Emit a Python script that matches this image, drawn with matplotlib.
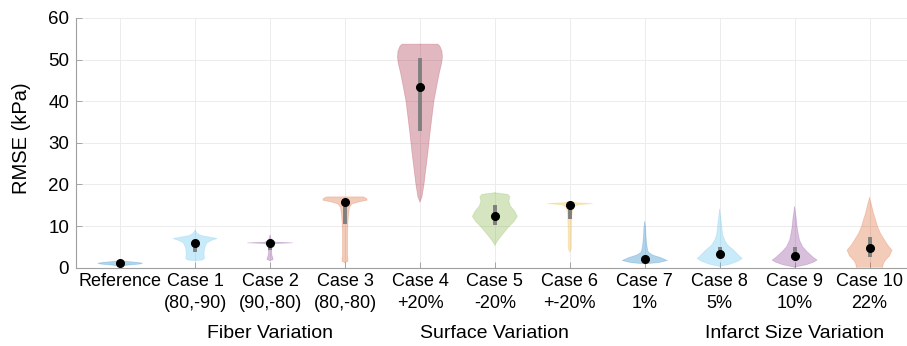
import matplotlib
matplotlib.use("Agg")
import matplotlib.pyplot as plt
from matplotlib.transforms import blended_transform_factory

plt.rcParams['font.family'] = ['Liberation Sans', 'DejaVu Sans']

# ---- categories -------------------------------------------------------------
labels = ["Reference", "Case 1\n(80,-90)", "Case 2\n(90,-80)", "Case 3\n(80,-80)",
          "Case 4\n+20%", "Case 5\n-20%", "Case 6\n+-20%", "Case 7\n1%",
          "Case 8\n5%", "Case 9\n10%", "Case 10\n22%"]
groups = ["Fiber Variation", "Surface Variation", "Infarct Size Variation"]
group_centers = [3, 6, 10]

# ---- violin outlines: RMSE level (kPa) and relative half-width (0..1) -------
ref_y = [0.35, 0.6, 0.85, 1.05, 1.25, 1.5, 1.8]
ref_w = [0.0, 0.35, 0.85, 1.0, 0.75, 0.25, 0.0]
c1_y = [1.7, 1.8, 2.2, 3.0, 4.0, 5.0, 6.0, 6.6, 7.0, 7.3, 7.7, 8.2, 9.0]
c1_w = [0.0, 0.31, 0.42, 0.4, 0.4, 0.44, 0.53, 0.76, 0.98, 0.67, 0.27, 0.09, 0.0]
c2_y = [1.7, 1.9, 2.3, 2.8, 3.5, 4.5, 5.5, 5.8, 5.95, 6.1, 6.4, 7.0, 7.8]
c2_w = [0.0, 0.13, 0.13, 0.09, 0.07, 0.07, 0.09, 0.27, 1.0, 0.27, 0.09, 0.04, 0.0]
c3_y = [1.2, 1.5, 2.2, 3.0, 5.0, 8.0, 11.0, 13.0, 14.5, 15.3, 15.8, 16.2, 16.5, 16.8, 17.0, 17.0]
c3_w = [0.0, 0.13, 0.13, 0.11, 0.11, 0.11, 0.13, 0.16, 0.2, 0.31, 0.62, 0.98, 0.98, 0.9, 0.8, 0.0]
c4_y = [15.8, 17, 20, 24, 28, 32, 36, 40, 44, 47, 49, 50.5, 52, 53.2, 53.7, 53.7]
c4_w = [0.0, 0.09, 0.18, 0.27, 0.36, 0.44, 0.53, 0.62, 0.76, 0.87, 0.96, 1.0, 0.98, 0.89, 0.8, 0.0]
c5_y = [5.4, 6.5, 7.5, 8.5, 9.8, 11.0, 12.3, 13.5, 14.8, 16.0, 17.0, 17.6, 18.0]
c5_w = [0.0, 0.13, 0.27, 0.42, 0.62, 0.84, 1.0, 0.89, 0.69, 0.62, 0.67, 0.58, 0.0]
c6_y = [3.8, 4.5, 6.0, 8.0, 10.0, 12.0, 13.5, 14.6, 15.1, 15.4, 15.6, 15.9]
c6_w = [0.0, 0.07, 0.07, 0.07, 0.08, 0.09, 0.11, 0.18, 0.36, 1.0, 0.27, 0.0]
c7_y = [0.9, 1.2, 1.7, 2.4, 3.0, 3.6, 4.2, 5.5, 6.6, 8.0, 9.5, 11.0]
c7_w = [0.0, 0.62, 1.0, 0.71, 0.36, 0.18, 0.13, 0.09, 0.07, 0.05, 0.04, 0.0]
c8_y = [0.3, 0.8, 1.5, 2.2, 3.0, 4.2, 5.4, 6.6, 8.0, 9.0, 11.0, 14.0]
c8_w = [0.0, 0.44, 0.8, 1.0, 0.84, 0.62, 0.36, 0.22, 0.13, 0.11, 0.07, 0.0]
c9_y = [0.1, 0.7, 1.3, 1.8, 2.6, 3.8, 5.0, 6.6, 8.2, 9.8, 12.0, 14.6]
c9_w = [0.0, 0.53, 0.84, 1.0, 0.8, 0.56, 0.36, 0.22, 0.16, 0.11, 0.07, 0.0]
c10_y = [0.0, 1.0, 1.8, 2.8, 4.2, 5.2, 6.6, 8.2, 9.8, 11.5, 13.0, 15.0, 16.8]
c10_w = [0.58, 0.62, 0.71, 0.89, 1.0, 0.84, 0.67, 0.49, 0.36, 0.27, 0.18, 0.09, 0.0]

outline_y = [ref_y, c1_y, c2_y, c3_y, c4_y, c5_y, c6_y, c7_y, c8_y, c9_y, c10_y]
outline_w = [ref_w, c1_w, c2_w, c3_w, c4_w, c5_w, c6_w, c7_w, c8_w, c9_w, c10_w]

# ---- summary statistics (kPa) -----------------------------------------------
medians = [1.2, 5.8, 5.8, 15.8, 43.3, 12.5, 15.0, 2.1, 3.3, 2.9, 4.8]
q1 = [1.0, 3.7, 4.2, 10.6, 32.8, 10.3, 11.8, 1.6, 2.2, 2.2, 2.6]
q3 = [1.4, 6.3, 5.9, 16.2, 50.5, 15.0, 15.3, 2.6, 5.0, 5.0, 7.4]

# MATLAB "lines" palette
blue = (0.0, 0.447, 0.741)
orange = (0.85, 0.325, 0.098)
yellow = (0.929, 0.694, 0.125)
purple = (0.494, 0.184, 0.556)
green = (0.466, 0.674, 0.188)
cyan = (0.301, 0.745, 0.933)
red = (0.635, 0.078, 0.184)
colors = [blue, cyan, purple, orange, red, green, yellow, blue, cyan, purple, orange]

max_half = 0.3

fig = plt.figure(figsize=(9.07, 3.46), dpi=100)
ax = fig.add_axes([76 / 907, 1 - 267.6 / 346, 1 - 76 / 907, (267.6 - 18) / 346])

for i, (ys, ws) in enumerate(zip(outline_y, outline_w)):
    x0 = i + 1
    half = [w * max_half for w in ws]
    ax.fill_betweenx(ys, [x0 - h for h in half], [x0 + h for h in half],
                     facecolor=colors[i], alpha=0.3, edgecolor='none', zorder=2)
    ax.plot([x0 - h for h in half], ys, color=colors[i], alpha=0.22, lw=0.6, zorder=2)
    ax.plot([x0 + h for h in half], ys, color=colors[i], alpha=0.22, lw=0.6, zorder=2)
    ax.plot([x0, x0], [q1[i], q3[i]], color='#7f7f7f', lw=2.8,
            solid_capstyle='butt', zorder=3)
    ax.plot([x0], [medians[i]], 'o', color='black', ms=5.5, zorder=4)

ax.set_xlim(0.41, 11.5)
ax.set_ylim(0, 60)
ax.set_yticks(range(0, 61, 10))
ax.set_xticks(range(1, len(labels) + 1))
ax.set_xticklabels(labels, fontsize=13, linespacing=1.4)
ax.tick_params(axis='y', labelsize=13.5, pad=5)
ax.tick_params(direction='in', length=4, color='#999999', width=0.6)
ax.tick_params(axis='x', pad=4)

ax.grid(True, color='#ececec', lw=0.7)
ax.set_axisbelow(True)
for side in ['top', 'right']:
    ax.spines[side].set_visible(False)
for side in ['left', 'bottom']:
    ax.spines[side].set_color('#a0a0a0')
    ax.spines[side].set_linewidth(0.8)

fig.text(22 / 907, 1 - 138 / 346, "RMSE (kPa)", rotation=90, ha='center',
         va='center', fontsize=14.5)

trans = blended_transform_factory(ax.transData, fig.transFigure)
for name, xc in zip(groups, group_centers):
    ax.text(xc, 1 - 334 / 346, name, transform=trans, ha='center', va='center',
            fontsize=14, clip_on=False)

fig.savefig("out.png", dpi=100)
